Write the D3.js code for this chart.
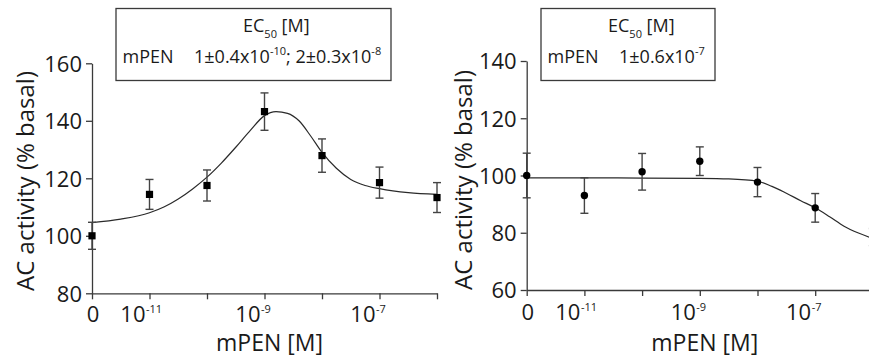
<!DOCTYPE html>
<html>
<head>
<meta charset="utf-8">
<script src="https://cdn.jsdelivr.net/npm/d3@7"></script>
<style>
  body { margin: 0; background: #fff; }
  svg { display: block; font-family: "Open Sans", sans-serif; }
</style>
</head>
<body>
<div id="chart"></div>
<script>
// log10 of mPEN [M]; -12 is the "0" (no mPEN) point
const doses = [-12, -11, -10, -9, -8, -7, -6];
const xTicks = [-12, -11, -10, -9, -8, -7, -6];
const xTickBase = ["0", "10", "", "10", "", "10", ""];
const xTickExp = ["", "-11", "", "-9", "", "-7", ""];

const leftMeans = [100, 114.4, 117.5, 143.2, 127.9, 118.5, 113.3];
const leftErrors = [4.7, 5.2, 5.4, 6.5, 5.8, 5.4, 5.2];
const leftYTicks = [80, 100, 120, 140, 160];
const leftFitX = [-12, -11.5, -11, -10.75, -10.5, -10.25, -10, -9.75, -9.5, -9.25, -9, -8.8, -8.6, -8.4, -8.2, -8, -7.75, -7.5, -7.25, -7, -6.5, -6];
const leftFitY = [104.6, 105.8, 108, 110, 112.8, 116.3, 120.4, 125.3, 130.8, 136.6, 141.8, 143.2, 142.6, 140, 134.8, 129, 123.5, 119.6, 117.5, 116.4, 115, 114.4];

const rightMeans = [100, 93, 101.3, 105, 97.7, 88.7, 78.5];
const rightErrors = [7.8, 6.2, 6.4, 5, 5.1, 5, 3];
const rightYTicks = [60, 80, 100, 120, 140];
const rightFitX = [-12, -11, -10, -9, -8.5, -8, -7.75, -7.5, -7.25, -7, -6.75, -6.5, -6.25, -6];
const rightFitY = [99.2, 99.2, 99.1, 99, 98.8, 98, 96.2, 93.8, 91.2, 88.7, 85.6, 82.3, 79.9, 78];

// EC50 legend rows: [text, superscript] pieces
const leftEC50 = [["1±0.4x10", "-10"], ["; 2±0.3x10", "-8"]];
const rightEC50 = [["1±0.6x10", "-7"]];

const width = 869;
const height = 362;
const ink = "#1a1a1a";
const axisColor = "#3a3a3a";

class DoseResponsePanel {
  constructor(svg, o) {
    this.svg = svg;
    this.o = o;
    this.x = d3.scaleLinear().domain([-12, -6]).range(o.xRange);
    this.y = d3.scaleLinear().domain(o.yDomain).range(o.yRange);
    this.line = d3
      .line()
      .curve(d3.curveMonotoneX)
      .x((d) => this.x(d[0]))
      .y((d) => this.y(d[1]));
    this.g = svg.append("g").attr("class", "panel");
    this.renderAxes();
    this.renderFit();
    this.renderPoints();
    this.renderLegend();
  }

  renderAxes() {
    const { x, y, o } = this;
    const y0 = o.yRange[0];

    const gY = this.g
      .append("g")
      .attr("transform", `translate(${o.xRange[0]},0)`)
      .call(
        d3.axisLeft(y).tickValues(o.yTicks).tickSize(6).tickSizeOuter(0).tickPadding(4)
      );
    const gX = this.g
      .append("g")
      .attr("transform", `translate(0,${y0})`)
      .call(
        d3.axisBottom(x).tickValues(xTicks).tickSize(6).tickSizeOuter(0).tickFormat(() => "")
      );

    [gY, gX].forEach((g) => {
      g.attr("font-family", null).attr("font-size", null);
      g.selectAll("path, line").attr("stroke", axisColor).attr("stroke-width", 1.3);
    });
    gX.selectAll("text").remove();
    gY.selectAll("text").attr("fill", ink).attr("font-size", 22).attr("dy", "0.36em");

    // x tick labels as 10 with superscript exponent
    const labels = this.g.append("g").attr("fill", ink);
    xTicks.forEach((t, i) => {
      if (!xTickBase[i]) return;
      const tx = x(t);
      if (!xTickExp[i]) {
        labels
          .append("text")
          .attr("x", tx + 1)
          .attr("y", o.tickBaseline)
          .attr("text-anchor", "middle")
          .attr("font-size", 22)
          .text(xTickBase[i]);
        return;
      }
      labels
        .append("text")
        .attr("x", tx - 4)
        .attr("y", o.tickBaseline)
        .attr("text-anchor", "end")
        .attr("font-size", 22)
        .text(xTickBase[i]);
      labels
        .append("text")
        .attr("x", tx - 3.5)
        .attr("y", o.tickBaseline - 9)
        .attr("font-size", 11)
        .text(xTickExp[i]);
    });

    this.g
      .append("text")
      .attr("x", (x(-12) + x(-6)) / 2 + 5)
      .attr("y", 351)
      .attr("text-anchor", "middle")
      .attr("font-size", 23)
      .attr("fill", ink)
      .text("mPEN [M]");

    this.g
      .append("text")
      .attr("transform", `translate(${o.yTitleX},${o.yTitleY}) rotate(-90)`)
      .attr("text-anchor", "middle")
      .attr("font-size", 24)
      .attr("fill", ink)
      .text("AC activity (% basal)");
  }

  renderFit() {
    const pts = this.o.fitX.map((d, i) => [d, this.o.fitY[i]]);
    this.g
      .append("path")
      .attr("d", this.line(pts))
      .attr("fill", "none")
      .attr("stroke", "#2a2a2a")
      .attr("stroke-width", 1.2);
  }

  renderPoints() {
    const { x, y, o } = this;
    const data = doses.map((d, i) => ({ dose: d, mean: o.means[i], err: o.errors[i] }));

    const bars = this.g
      .append("g")
      .attr("stroke", "#444")
      .attr("stroke-width", 1.4)
      .selectAll("g")
      .data(data)
      .join("g")
      .attr("transform", (d) => `translate(${x(d.dose)},0)`);
    bars
      .append("line")
      .attr("y1", (d) => y(d.mean - d.err))
      .attr("y2", (d) => y(d.mean + d.err));
    bars
      .selectAll(".cap")
      .data((d) => [d.mean - d.err, d.mean + d.err])
      .join("line")
      .attr("class", "cap")
      .attr("x1", -4)
      .attr("x2", 4)
      .attr("y1", (v) => y(v))
      .attr("y2", (v) => y(v));

    const dots = this.g.append("g").attr("fill", "#000");
    if (o.marker === "square") {
      dots
        .selectAll("rect")
        .data(data)
        .join("rect")
        .attr("x", (d) => x(d.dose) - 3.6)
        .attr("y", (d) => y(d.mean) - 3.6)
        .attr("width", 7.2)
        .attr("height", 7.2);
    } else {
      dots
        .selectAll("circle")
        .data(data)
        .join("circle")
        .attr("cx", (d) => x(d.dose))
        .attr("cy", (d) => y(d.mean))
        .attr("r", 3.7);
    }
  }

  renderLegend() {
    const L = this.o.legend;
    const g = this.g.append("g").attr("fill", ink);
    g.append("rect")
      .attr("x", L.x)
      .attr("y", 8.5)
      .attr("width", L.w)
      .attr("height", 72)
      .attr("fill", "none")
      .attr("stroke", axisColor)
      .attr("stroke-width", 1.3);

    const title = g
      .append("text")
      .attr("x", L.titleX)
      .attr("y", 31.5)
      .attr("font-size", 18);
    title.append("tspan").text("EC");
    title.append("tspan").attr("font-size", 11).attr("dy", 6).text("50");
    title.append("tspan").attr("dy", -6).text(" [M]");

    g.append("text")
      .attr("x", L.x + 6.5)
      .attr("y", 63.3)
      .attr("font-size", 18)
      .text("mPEN");

    const val = g
      .append("text")
      .attr("x", L.x + 78)
      .attr("y", 63.3)
      .attr("font-size", 18);
    L.rows.forEach(([base, exp], i) => {
      val.append("tspan").attr("dy", i ? 8 : 0).text(base);
      val.append("tspan").attr("font-size", 11).attr("dy", -8).text(exp);
    });
  }
}

const svg = d3
  .select("#chart")
  .append("svg")
  .attr("width", width)
  .attr("height", height)
  .attr("viewBox", [0, 0, width, height]);

new DoseResponsePanel(svg, {
  xRange: [92, 437],
  yDomain: [80, 160],
  yRange: [293.3, 63.3],
  yTicks: leftYTicks,
  means: leftMeans,
  errors: leftErrors,
  fitX: leftFitX,
  fitY: leftFitY,
  marker: "square",
  tickBaseline: 321.5,
  yTitleX: 34,
  yTitleY: 181,
  legend: { x: 116, w: 275, titleX: 243, rows: leftEC50 },
});

new DoseResponsePanel(svg, {
  xRange: [526.7, 872.9],
  yDomain: [60, 140],
  yRange: [290, 61],
  yTicks: rightYTicks,
  means: rightMeans,
  errors: rightErrors,
  fitX: rightFitX,
  fitY: rightFitY,
  marker: "circle",
  tickBaseline: 320,
  yTitleX: 472,
  yTitleY: 180,
  legend: { x: 541, w: 174, titleX: 608, rows: rightEC50 },
});
</script>
</body>
</html>
